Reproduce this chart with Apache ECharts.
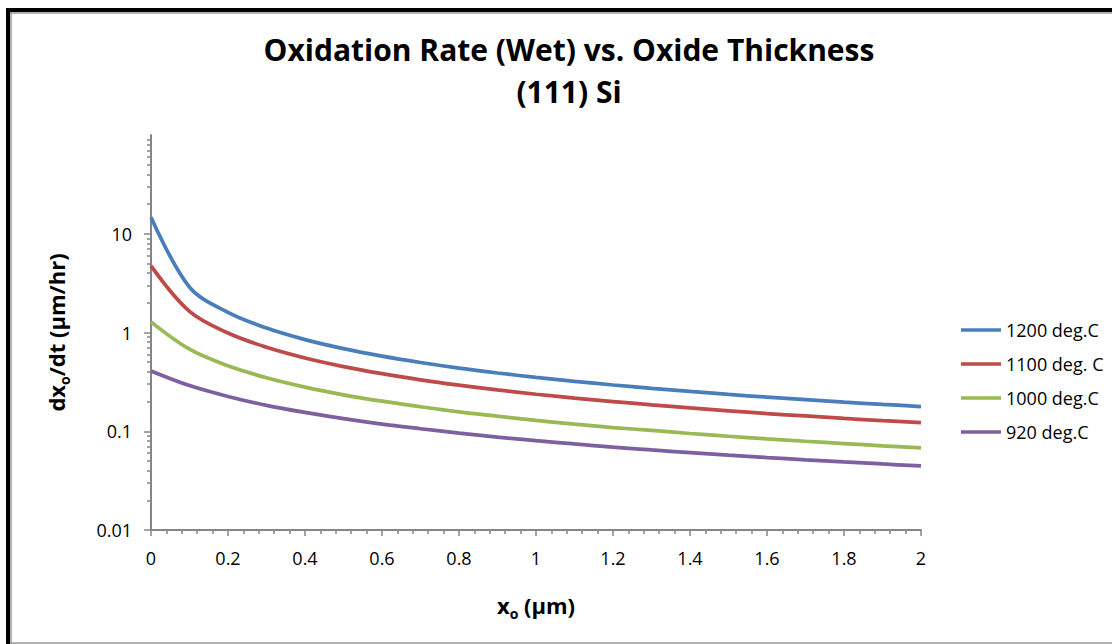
<!DOCTYPE html>
<html>
<head>
<meta charset="utf-8">
<title>Oxidation Rate (Wet) vs. Oxide Thickness</title>
<script src="https://cdn.jsdelivr.net/npm/echarts@6/dist/echarts.min.js"></script>
<style>
  html, body { margin: 0; padding: 0; background: #ffffff; }
  #chart { width: 1112px; height: 644px; }
</style>
</head>
<body>
<div id="chart"></div>
<script>
// Oxide thickness x_o (µm)
const thickness = [0, 0.1, 0.2, 0.3, 0.4, 0.5, 0.6, 0.7, 0.8, 0.9, 1.0,
                   1.1, 1.2, 1.3, 1.4, 1.5, 1.6, 1.7, 1.8, 1.9, 2.0];

// Wet oxidation rate dx_o/dt (µm/hr) on (111) Si
const rate1200 = [14.7, 2.88, 1.60, 1.108, 0.847, 0.686, 0.576, 0.497, 0.436, 0.389, 0.351,
                  0.320, 0.294, 0.272, 0.253, 0.236, 0.222, 0.209, 0.197, 0.187, 0.178];
const rate1100 = [4.72, 1.634, 0.988, 0.708, 0.552, 0.452, 0.383, 0.332, 0.293, 0.262, 0.237,
                  0.217, 0.200, 0.185, 0.172, 0.161, 0.151, 0.143, 0.135, 0.128, 0.122];
const rate1000 = [1.281, 0.677, 0.460, 0.348, 0.280, 0.234, 0.2015, 0.177, 0.157, 0.142, 0.129,
                  0.118, 0.109, 0.102, 0.0949, 0.0890, 0.0838, 0.0792, 0.0751, 0.0713, 0.0679];
const rate920  = [0.408, 0.290, 0.225, 0.183, 0.155, 0.134, 0.118, 0.106, 0.0957, 0.0873, 0.0803,
                  0.0743, 0.0692, 0.0647, 0.0608, 0.0573, 0.0542, 0.0514, 0.0489, 0.0466, 0.0445];

const seriesNames = ['1200 deg.C', '1100 deg. C', '1000 deg.C', '920 deg.C'];
const seriesColors = ['#4A7EBB', '#BE4B48', '#98B954', '#7D60A0'];
const seriesValues = [rate1200, rate1100, rate1000, rate920];

// Log-axis minor tick positions (2..9 within each decade)
const minorLogTicks = [];
[0.01, 0.1, 1, 10].forEach(function (d) {
  for (let k = 2; k <= 9; k++) minorLogTicks.push(+(d * k).toPrecision(3));
});

const FONT = 'Open Sans';
const AXIS_GRAY = '#868686';

const nameRich = {
  a: { fontFamily: FONT, fontWeight: 'bold', fontSize: 22, lineHeight: 30, color: '#000' },
  s: { fontFamily: FONT, fontWeight: 'bold', fontSize: 14, lineHeight: 15, verticalAlign: 'bottom', color: '#000' }
};

const chart = echarts.init(document.getElementById('chart'), null, { renderer: 'svg' });

chart.setOption({
  backgroundColor: '#ffffff',
  animation: false,
  title: {
    text: 'Oxidation Rate (Wet) vs. Oxide Thickness\n(111) Si',
    left: 564,
    top: 23,
    textAlign: 'center',
    textStyle: {
      fontFamily: FONT,
      fontWeight: 'bold',
      fontSize: 30,
      lineHeight: 42,
      color: '#000000'
    }
  },
  legend: {
    orient: 'vertical',
    left: 956,
    top: 314,
    itemWidth: 40,
    itemHeight: 3.5,
    itemGap: 12,
    icon: 'rect',
    textStyle: { fontFamily: FONT, fontSize: 18, lineHeight: 22, color: '#000000' },
    data: seriesNames
  },
  grid: { left: 151, right: 191, top: 135, bottom: 114, containLabel: false },
  xAxis: {
    type: 'value',
    min: 0,
    max: 2,
    interval: 0.2,
    name: '{a|x}{s|o}{a| (µm)}',
    nameLocation: 'middle',
    nameGap: 60,
    nameTextStyle: { rich: nameRich },
    axisLine: { lineStyle: { color: AXIS_GRAY, width: 2 } },
    axisTick: { show: true, length: 6, lineStyle: { color: AXIS_GRAY, width: 1.5 } },
    minorTick: { show: true, splitNumber: 5, length: 4, lineStyle: { color: AXIS_GRAY, width: 1.5 } },
    splitLine: { show: false },
    minorSplitLine: { show: false },
    axisLabel: { fontFamily: FONT, fontSize: 18, color: '#000000', margin: 19 }
  },
  yAxis: [
    {
      type: 'log',
      logBase: 10,
      min: 0.01,
      max: 100,
      name: '{a|dx}{s|o}{a|/dt (µm/hr)}',
      nameLocation: 'middle',
      nameGap: 80,
      nameTextStyle: { rich: nameRich },
      axisLine: { show: true, lineStyle: { color: AXIS_GRAY, width: 2 } },
      axisTick: { show: true, length: 7, lineStyle: { color: AXIS_GRAY, width: 1.5 } },
      splitLine: { show: false },
      axisLabel: { fontFamily: FONT, fontSize: 18, color: '#000000', margin: 19, showMaxLabel: false }
    },
    {
      // minor ticks of the log scale
      type: 'log',
      logBase: 10,
      min: 0.01,
      max: 100,
      position: 'left',
      axisLine: { show: false },
      axisLabel: { show: false },
      splitLine: { show: false },
      axisTick: {
        show: true,
        length: 4,
        customValues: minorLogTicks,
        lineStyle: { color: AXIS_GRAY, width: 1.5 }
      }
    }
  ],
  series: seriesNames.map(function (name, i) {
    return {
      name: name,
      type: 'line',
      yAxisIndex: 0,
      smooth: 0.35,
      showSymbol: false,
      symbol: 'none',
      lineStyle: { color: seriesColors[i], width: 3.75 },
      itemStyle: { color: seriesColors[i] },
      data: thickness.map(function (x, j) { return [x, seriesValues[i][j]]; })
    };
  }),
  graphic: [
    // outer frame: heavy black edges on top and left, thin grey edges inside and at bottom
    { type: 'rect', shape: { x: 6, y: 8, width: 1106, height: 4 }, style: { fill: '#000000' }, silent: true },
    { type: 'rect', shape: { x: 6, y: 8, width: 4, height: 636 }, style: { fill: '#000000' }, silent: true },
    { type: 'line', shape: { x1: 10, y1: 13, x2: 1112, y2: 13 }, style: { stroke: '#9a9a9a', lineWidth: 1.5 }, silent: true },
    { type: 'line', shape: { x1: 11, y1: 12, x2: 11, y2: 644 }, style: { stroke: '#9a9a9a', lineWidth: 1.5 }, silent: true },
    { type: 'line', shape: { x1: 10, y1: 643, x2: 1112, y2: 643 }, style: { stroke: '#9a9a9a', lineWidth: 1.5 }, silent: true }
  ]
});
</script>
</body>
</html>
